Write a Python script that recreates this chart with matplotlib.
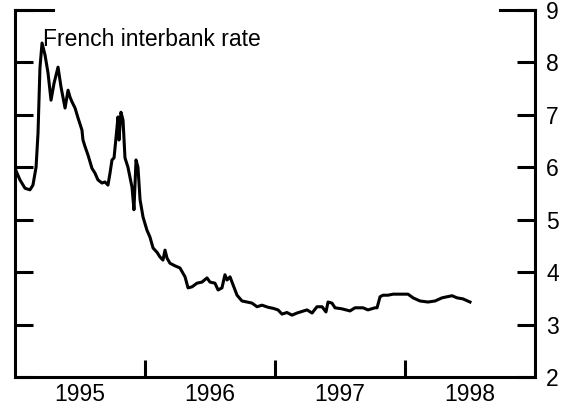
import matplotlib
matplotlib.use("Agg")
import matplotlib.pyplot as plt
import numpy as np

plt.rcParams["font.family"] = "sans-serif"
plt.rcParams["font.sans-serif"] = ["Liberation Sans", "DejaVu Sans"]

# fractional year, rate (%)
dates = [
    1995.000, 1995.038, 1995.077, 1995.115, 1995.138, 1995.162, 1995.177, 1995.192,
    1995.208, 1995.231, 1995.254, 1995.277, 1995.300, 1995.331, 1995.354, 1995.385,
    1995.408, 1995.423, 1995.438, 1995.462, 1995.485, 1995.515, 1995.523, 1995.538,
    1995.562, 1995.592, 1995.615, 1995.638, 1995.669, 1995.692, 1995.715, 1995.731,
    1995.746, 1995.762, 1995.785, 1995.792, 1995.800, 1995.815, 1995.831, 1995.846,
    1995.869, 1995.900, 1995.915, 1995.931, 1995.946, 1995.962, 1995.985, 1996.015,
    1996.038, 1996.062, 1996.092, 1996.115, 1996.138, 1996.154, 1996.169, 1996.192,
    1996.231, 1996.269, 1996.308, 1996.331, 1996.362, 1996.400, 1996.438, 1996.477,
    1996.500, 1996.538, 1996.562, 1996.592, 1996.615, 1996.631, 1996.654, 1996.677,
    1996.708, 1996.746, 1996.785, 1996.823, 1996.862, 1996.900, 1996.946, 1996.985,
    1997.023, 1997.054, 1997.092, 1997.131, 1997.169, 1997.246, 1997.285, 1997.323,
    1997.362, 1997.392, 1997.408, 1997.438, 1997.462, 1997.515, 1997.577, 1997.615,
    1997.677, 1997.715, 1997.769, 1997.785, 1997.808, 1997.831, 1997.869, 1997.908,
    1997.962, 1998.023, 1998.062, 1998.115, 1998.177, 1998.231, 1998.285, 1998.323,
    1998.362, 1998.400, 1998.446, 1998.500,
]
rate = [
    5.98, 5.76, 5.60, 5.57, 5.66, 6.00, 6.65, 7.90,
    8.37, 8.14, 7.80, 7.28, 7.60, 7.91, 7.53, 7.13,
    7.47, 7.34, 7.25, 7.13, 6.94, 6.71, 6.52, 6.40,
    6.23, 5.98, 5.89, 5.76, 5.70, 5.72, 5.66, 5.89,
    6.14, 6.18, 6.77, 6.96, 6.52, 7.05, 6.90, 6.18,
    6.00, 5.62, 5.19, 6.14, 6.00, 5.38, 5.05, 4.80,
    4.67, 4.46, 4.38, 4.29, 4.23, 4.42, 4.27, 4.17,
    4.12, 4.08, 3.91, 3.70, 3.72, 3.79, 3.81, 3.89,
    3.81, 3.79, 3.66, 3.70, 3.95, 3.85, 3.91, 3.76,
    3.56, 3.45, 3.43, 3.41, 3.34, 3.37, 3.33, 3.31,
    3.28, 3.20, 3.23, 3.18, 3.22, 3.28, 3.22, 3.34,
    3.34, 3.24, 3.43, 3.41, 3.32, 3.30, 3.26, 3.32,
    3.32, 3.28, 3.32, 3.32, 3.53, 3.56, 3.56, 3.58,
    3.58, 3.58, 3.51, 3.45, 3.43, 3.45, 3.51, 3.53,
    3.55, 3.51, 3.49, 3.43,
]
year_ticks = [1996, 1997, 1998]
year_labels = ["1995", "1996", "1997", "1998"]
y_ticks = [2, 3, 4, 5, 6, 7, 8, 9]

FONT_SIZE = 16.5
LINE_WIDTH = 2.2

fig = plt.figure(figsize=(5.69, 4.09), dpi=100)
ax = fig.add_axes([15 / 569, 1 - 377 / 409, 520 / 569, 367 / 409])

ax.plot(dates, rate, color="black", linewidth=LINE_WIDTH, solid_joinstyle="round")
ax.text(1995.215, 8.31, "French interbank rate", fontsize=FONT_SIZE, va="baseline", ha="left")

ax.set_xlim(1995, 1999)
ax.set_ylim(2, 9)

ax.spines["top"].set_visible(False)
for s in ("left", "right", "bottom"):
    ax.spines[s].set_linewidth(LINE_WIDTH)
# short stubs at the top corners
ax.plot([0, 38 / 520], [1, 1], color="black", linewidth=LINE_WIDTH, transform=ax.transAxes,
        clip_on=False, solid_capstyle="projecting")
ax.plot([1 - 35 / 520, 1], [1, 1], color="black", linewidth=LINE_WIDTH, transform=ax.transAxes,
        clip_on=False, solid_capstyle="projecting")

ax.set_yticks(y_ticks)
ax.set_yticklabels([str(v) for v in y_ticks])
ax.tick_params(axis="y", which="major", direction="in", length=13, width=LINE_WIDTH,
               left=True, right=True, labelleft=False, labelright=True,
               labelsize=FONT_SIZE, pad=8)
ax.set_yticks([], minor=True)

ax.set_xticks(year_ticks)
ax.set_xticklabels([])
ax.set_xticks([1995.5, 1996.5, 1997.5, 1998.5], minor=True)
ax.set_xticklabels(year_labels, minor=True)
ax.tick_params(axis="x", which="major", direction="in", length=12, width=LINE_WIDTH)
ax.tick_params(axis="x", which="minor", length=0, labelsize=FONT_SIZE, pad=4)

fig.savefig("out.png", dpi=100)
